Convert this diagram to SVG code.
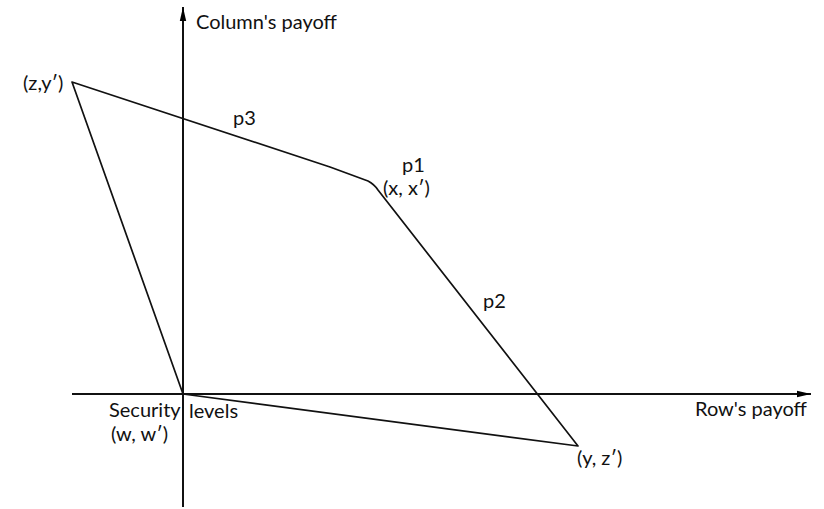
<svg xmlns="http://www.w3.org/2000/svg" width="824" height="509" viewBox="0 0 824 509">
<defs>
<marker id="arr" viewBox="0 0 10 10" refX="10" refY="5" markerWidth="14" markerHeight="8" markerUnits="userSpaceOnUse" orient="auto" preserveAspectRatio="none">
<path d="M0,1 L10,5 L0,9 Z" fill="#000"/>
</marker>
<style>
text{font-family:Lato,"Open Sans","Liberation Sans",sans-serif;font-size:20px;fill:#111}
.ln{stroke:#111;stroke-width:1.7;fill:none;stroke-linejoin:round}
.ax{stroke:#111;stroke-width:2;fill:none}
</style>
</defs>
<rect width="824" height="509" fill="#fff"/>
<g id="connectors">
<line class="ax" x1="183" y1="507" x2="183" y2="7" marker-end="url(#arr)"/>
<line class="ax" x1="72" y1="394" x2="811" y2="394" marker-end="url(#arr)"/>
<path class="ln" d="M72,82 L330,167 L368,181 Q374,184 378,190 L578,446 L183,394 Z"/>
</g>
<g id="axis-y"><text x="196" y="29">Column's payoff</text></g>
<g id="axis-x"><text x="695" y="416">Row's payoff</text></g>
<g id="zy"><text x="23" y="90">(z,y′)</text></g>
<g id="p3"><text x="233" y="125">p3</text></g>
<g id="p1"><text x="402" y="172">p1</text><text x="383" y="195">(x, x′)</text></g>
<g id="p2"><text x="483" y="308">p2</text></g>
<g id="sec"><text x="109" y="417">Security</text><text x="189" y="418">levels</text><text x="111" y="441">(w, w′)</text></g>
<g id="yz"><text x="577" y="465">(y, z′)</text></g>
</svg>
